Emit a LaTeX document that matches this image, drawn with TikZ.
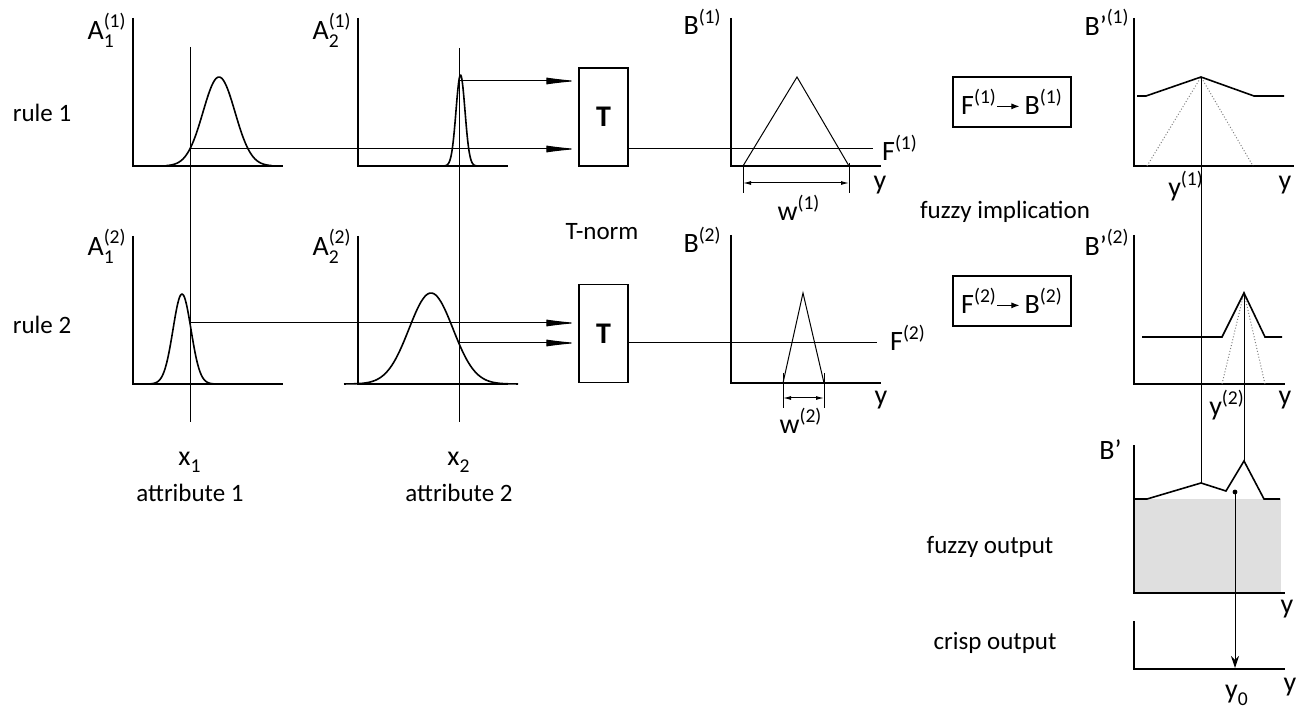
\documentclass[tikz,border=0pt]{standalone}
\usepackage{amsmath}
\usepackage{fontspec}
\setmainfont{Carlito}
\usepackage{tikz}
\usetikzlibrary{arrows.meta,calc,positioning}
\tikzset{%
	axis/.style     = {line width=1pt},
	curve/.style    = {line width=0.8pt},
	conn/.style     = {line width=0.5pt},
	tnorm/.style    = {draw, line width=0.7pt, rectangle, minimum width=24.5pt, minimum height=49pt, font=\bfseries\fontsize{15}{17}\selectfont},
	impl/.style     = {draw, line width=0.7pt, rectangle, minimum width=59pt, minimum height=25pt, font=\fontsize{14}{16}\selectfont},
	lbl/.style      = {inner sep=0pt, font=\fontsize{14}{16}\selectfont},
	txt/.style      = {inner sep=0pt},
	bigarrow/.style = {conn, -{Latex[length=16pt,width=3.5pt]}},
	dim/.style      = {conn, {Latex[length=4pt,width=2pt]}-{Latex[length=4pt,width=2pt]}},
	guide/.style    = {densely dotted, gray, line width=0.5pt},
}
\newcommand{\mf}[3]{$\text{#1}_{\text{#2}}^{\text{#3}}$}
\newcommand{\imparrow}{\tikz[baseline=-0.6ex]\draw[line width=0.5pt,-{Latex[length=4pt,width=3pt]}] (0,0) -- (11pt,0);}

\begin{document}
\begin{tikzpicture}[x=0.5pt, y=-0.5pt, font=\fontsize{12.5}{15}\selectfont]
	\useasboundingbox (0,0) rectangle (1302,711);

	% texts
	\node[txt] (rule1) at (42,113) {rule 1};
	\node[txt] (rule2) at (42,325) {rule 2};
	\node[txt] (tnormtxt) at (602,232) {T-norm};
	\node[txt] (impltxt) at (1005,212) {fuzzy implication};
	\node[txt] (fuzzout) at (990,547) {fuzzy output};
	\node[txt] (crispout) at (995,643) {crisp output};
	\node[lbl] (x1) at (190,462) {\mf{x}{1}{}};
	\node[lbl] (x2) at (459,462) {\mf{x}{2}{}};
	\node[txt] (attr1) at (190,493) {attribute 1};
	\node[txt] (attr2) at (459,493) {attribute 2};

	% panel labels
	\node[lbl,anchor=east] (A11) at (127,30) {\mf{A}{1}{(1)}};
	\node[lbl,anchor=east] (A21) at (352,30) {\mf{A}{2}{(1)}};
	\node[lbl,anchor=east] (B1) at (722,22) {$\text{B}^{\text{(1)}}$};
	\node[lbl,anchor=east] (Bp1) at (1130,22) {$\text{B'}^{\text{(1)}}$};
	\node[lbl,anchor=east] (A12) at (127,246) {\mf{A}{1}{(2)}};
	\node[lbl,anchor=east] (A22) at (352,246) {\mf{A}{2}{(2)}};
	\node[lbl,anchor=east] (B2) at (722,240) {$\text{B}^{\text{(2)}}$};
	\node[lbl,anchor=east] (Bp2) at (1130,242) {$\text{B'}^{\text{(2)}}$};
	\node[lbl,anchor=east] (Bp) at (1122,450) {B'};
	\node[lbl] (F1) at (900,148) {$\text{F}^{\text{(1)}}$};
	\node[lbl] (F2) at (908,338) {$\text{F}^{\text{(2)}}$};
	\node[lbl] (w1) at (799,208) {$\text{w}^{\text{(1)}}$};
	\node[lbl] (w2) at (801,421) {$\text{w}^{\text{(2)}}$};
	\node[lbl] (y1) at (1186,186) {$\text{y}^{\text{(1)}}$};
	\node[lbl] (y2) at (1227,405) {$\text{y}^{\text{(2)}}$};
	\node[lbl] (y0) at (1237,695) {\mf{y}{0}{}};
	\node[lbl] (yB1) at (880,185) {y};
	\node[lbl] (yB2) at (881,400) {y};
	\node[lbl] (yBp1) at (1285,185) {y};
	\node[lbl] (yBp2) at (1285,400) {y};
	\node[lbl] (yBp) at (1287,609) {y};
	\node[lbl] (ycr) at (1290,687) {y};

	% blocks
	\node[tnorm] (T1) at (603.5,117) {T};
	\node[tnorm] (T2) at (603.5,333.5) {T};
	\node[impl] (I1) at (1012,102) {$\text{F}^{\text{(1)}}$\imparrow$\,\text{B}^{\text{(1)}}$};
	\node[impl] (I2) at (1012,301) {$\text{F}^{\text{(2)}}$\imparrow$\,\text{B}^{\text{(2)}}$};

	% axes
	\draw[axis] (133,18) |- (283,166);
	\draw[axis] (358,18) |- (508,166);
	\draw[axis] (731,18) |- (881,166);
	\draw[axis] (1134,18) |- (1294,166);
	\draw[axis] (133,236) |- (283,384);
	\draw[axis] (358,236) |- (508,384);
	\draw[axis] (731,235) |- (881,383);
	\draw[axis] (1134,235) |- (1285,384);
	\fill[gray!25] (1134,499) rectangle (1281,593);
	\draw[axis] (1134,445) |- (1285,593);
	\draw[axis] (1134,621) |- (1285,669);

	% membership functions
	\draw[curve] plot[domain=-53:53, samples=80] ({219+\x},{166-89*exp(-(\x*\x)/512)});
	\draw[curve] plot[domain=-16:16, samples=60] ({460.5+\x},{166-91*exp(-(\x*\x)/40.5)});
	\draw[curve] plot[domain=-36:36, samples=80] ({182+\x},{384-90*exp(-(\x*\x)/162)});
	\draw[curve] plot[domain=-87:87, samples=100] ({431+\x},{384-91*exp(-(\x*\x)/968)});
	\draw[conn] (743,166) -- (797,77) -- (849,166);
	\draw[conn] (783,383) -- (803,293) -- (824,383);
	\draw[guide] (1147,166) -- (1201,77) -- (1253,166);
	\draw[guide] (1222,384) -- (1244,293) -- (1265,384);
	\draw[curve] (1137,96) -- (1146,96) -- (1201,77) -- (1254,96) -- (1284,96);
	\draw[curve] (1142,337) -- (1222,337) -- (1244,293) -- (1265,337) -- (1282,337);
	\draw[curve] (1134,499) -- (1147,499) -- (1201,483) -- (1226,491) -- (1244,461) -- (1264,499) -- (1280,499);

	% widths
	\draw[conn] (743,166) -- (743,193);
	\draw[conn] (849,163) -- (849,193);
	\draw[dim] (743,183) -- (849,183);
	\draw[conn] (783,373) -- (783,408);
	\draw[conn] (824,373) -- (824,408);
	\draw[dim] (783,398) -- (824,398);

	% inputs
	\coordinate (x1top) at (190,47);
	\coordinate (x1bot) at (190,422);
	\coordinate (x2top) at (459,48);
	\coordinate (x2bot) at (459,422);
	\draw[conn] (x1top) -- (x1bot);
	\draw[conn] (x2top) -- (x2bot);
	\coordinate (p11) at (190,149);
	\coordinate (p12) at (459,81);
	\coordinate (p21) at (190,323);
	\coordinate (p22) at (459,343);
	\draw[bigarrow] (p12) -- (p12 -| T1.west);
	\draw[bigarrow] (p11) -- (p11 -| T1.west);
	\draw[bigarrow] (p21) -- (p21 -| T2.west);
	\draw[bigarrow] (p22) -- (p22 -| T2.west);
	\coordinate (f1) at (873,149);
	\coordinate (f2) at (877,343);
	\draw[conn] (T1.east |- f1) -- (f1);
	\draw[conn] (T2.east |- f2) -- (f2);

	% aggregation
	\coordinate (pk1) at (1201,77);
	\coordinate (pk2) at (1244,293);
	\coordinate (b1) at (1201,483);
	\coordinate (b2) at (1244,461);
	\draw[conn] (pk1) -- (b1);
	\draw[conn] (pk2) -- (b2);
	\coordinate (c0) at (1235,492);
	\coordinate (c0end) at (1235,668);
	\fill (c0) circle[radius=1.2pt];
	\draw[conn,-{Stealth[length=6pt,width=4pt]}] (c0) -- (c0end);
\end{tikzpicture}
\end{document}
